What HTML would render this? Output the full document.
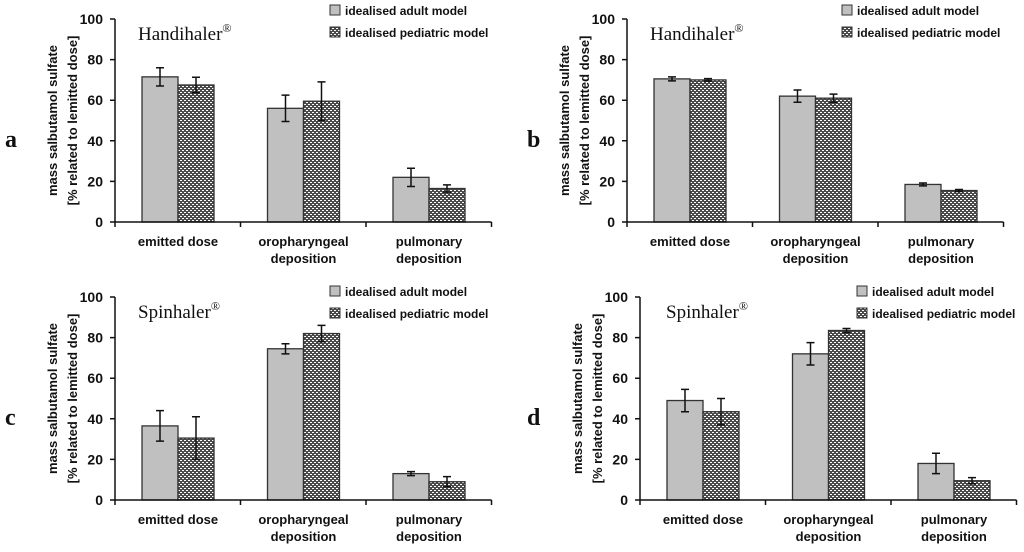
<!DOCTYPE html>
<html><head><meta charset="utf-8"><style>
body{margin:0;background:#fff;}
svg text{font-family:"Liberation Sans",sans-serif;}
</style></head><body>
<svg id="s" width="1024" height="547" xmlns="http://www.w3.org/2000/svg">
<defs>
<pattern id="chk" width="4" height="4" patternUnits="userSpaceOnUse">
<rect width="4" height="4" fill="#4a4a4a"/>
<rect x="0" y="0" width="2" height="1" fill="#fff"/>
<rect x="2" y="2" width="2" height="1" fill="#fff"/>
</pattern>
</defs>
</svg>
<script>
const categories=[["emitted dose"],["oropharyngeal","deposition"],["pulmonary","deposition"]];
const yTicks=[0,20,40,60,80,100];
const aAdult=[71.5,56,22], aAdultErr=[4.5,6.5,4.5], aPed=[67.5,59.5,16.5], aPedErr=[3.8,9.5,1.8];
const bAdult=[70.5,62,18.5], bAdultErr=[1,3,0.7], bPed=[70,61,15.5], bPedErr=[0.6,2,0.5];
const cAdult=[36.5,74.5,13], cAdultErr=[7.5,2.5,1], cPed=[30.5,82,9], cPedErr=[10.5,4,2.5];
const dAdult=[49,72,18], dAdultErr=[5.5,5.5,5], dPed=[43.5,83.5,9.5], dPedErr=[6.5,1,1.5];
const panels=[
 {id:'a',title:'Handihaler',ax:115,y0:222,y1:19,adult:aAdult,ae:aAdultErr,ped:aPed,pe:aPedErr,lx:330,ly:5,tx:138,ty:40,px:5,py:147},
 {id:'b',title:'Handihaler',ax:627,y0:222,y1:19,adult:bAdult,ae:bAdultErr,ped:bPed,pe:bPedErr,lx:842,ly:5,tx:650,ty:40,px:527,py:147},
 {id:'c',title:'Spinhaler',ax:115,y0:500,y1:297,adult:cAdult,ae:cAdultErr,ped:cPed,pe:cPedErr,lx:330,ly:286,tx:138,ty:318,px:5,py:425},
 {id:'d',title:'Spinhaler',ax:640,y0:500,y1:297,adult:dAdult,ae:dAdultErr,ped:dPed,pe:dPedErr,lx:857,ly:286,tx:666,ty:318,px:527,py:425}
];
const svg=document.getElementById('s');
const NS='http://www.w3.org/2000/svg';
function mk(tag,attrs,parent){const e=document.createElementNS(NS,tag);for(const k in attrs)e.setAttribute(k,attrs[k]);(parent||svg).appendChild(e);return e;}
panels.forEach(p=>{
 const g=mk('g',{});
 
 
 const cw=125.5;
 const y=v=>p.y0-(p.y0-p.y1)*v/100;
 const cx=i=>p.ax+cw*i;
 for(let i=0;i<3;i++){
  const x0=cx(i)+27;
  [[p.adult,p.ae,'#c0c0c0','adult'],[p.ped,p.pe,'url(#chk)','pediatric']].forEach((s,j)=>{
   const v=s[0][i],e=s[1][i],bx=x0+j*36;
   const r=mk('rect',{x:bx,y:y(v),width:36,height:p.y0-y(v),fill:s[2],stroke:'#333','stroke-width':1.3},g);
   
   
   const m=bx+18;
   const eb=mk('path',{d:`M${m} ${y(v+e)}V${y(v-e)}M${m-4} ${y(v+e)}H${m+4}M${m-4} ${y(v-e)}H${m+4}`,stroke:'#111','stroke-width':1.5,fill:'none'},g);
   
   
  });
  categories[i].forEach((t,k)=>{
   const tt=mk('text',{x:cx(i)+63,y:p.y0+24+k*17,'text-anchor':'middle','font-size':13,'font-weight':'bold',fill:'#111'},g);
   tt.textContent=t;
   
   
  });
 }
 const ya=mk('path',{d:`M${p.ax} ${p.y1}V${p.y0}`,stroke:'#111','stroke-width':1.5},g);
 
 
 let d=`M${p.ax} ${p.y0}H${p.ax+cw*3}`;
 for(let i=0;i<=3;i++)d+=`M${cx(i)} ${p.y0}V${p.y0+5}`;
 yTicks.forEach(t=>{d+=`M${p.ax-5} ${y(t)}H${p.ax}`;});
 const xa=mk('path',{d:d,stroke:'#111','stroke-width':1.5,fill:'none'},g);
 
 
 yTicks.forEach(t=>{
  const tl=mk('text',{x:p.ax-12,y:y(t)+5,'text-anchor':'end','font-size':14,'font-weight':'bold',fill:'#111'},g);
  tl.textContent=t;
  
  
 });
 const cy=(p.y0+p.y1)/2;
 ['mass salbutamol sulfate','[% related to lemitted dose]'].forEach((t,k)=>{
  const xx=p.ax-62+k*20;
  const yt=mk('text',{x:xx,y:cy+4,'text-anchor':'middle','font-size':13,'font-weight':'bold',fill:'#111',transform:`rotate(-90 ${xx} ${cy})`},g);
  yt.textContent=t;
  
  
 });
 const ti=mk('text',{x:p.tx,y:p.ty,'font-size':19,fill:'#111',style:'font-family:"Liberation Serif",serif'},g);
 ti.innerHTML=p.title+'<tspan font-size="12" dy="-8">®</tspan>';
 
 
 const pl=mk('text',{x:p.px,y:p.py,'font-size':24,'font-weight':'bold',fill:'#111',style:'font-family:"Liberation Serif",serif'},g);
 pl.textContent=p.id;
 
 
 [['idealised adult model','#c0c0c0'],['idealised pediatric model','url(#chk)']].forEach((L,k)=>{
  const ly=p.ly+k*22;
  const sw=mk('rect',{x:p.lx,y:ly,width:10,height:10,fill:L[1],stroke:'#333','stroke-width':1},g);
  
  
  const lt=mk('text',{x:p.lx+15,y:ly+10,'font-size':12,'font-weight':'bold',fill:'#111'},g);
  lt.textContent=L[0];
  
  
 });
});
</script>
</body></html>
